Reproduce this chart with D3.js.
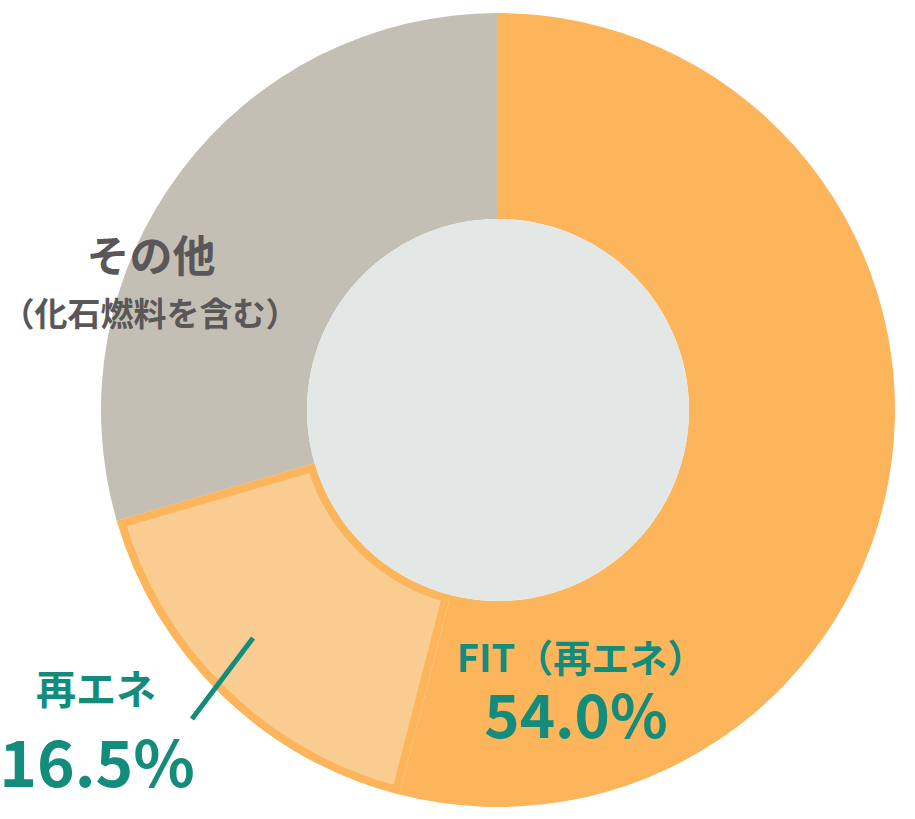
<!DOCTYPE html>
<html><head><meta charset="utf-8">
<script src="https://cdn.jsdelivr.net/npm/d3@7"></script>
<style>
html,body{margin:0;padding:0;background:#fff;}
svg{display:block;}
text{font-family:"Noto Sans CJK JP","Noto Sans",sans-serif;font-weight:700;}
</style></head>
<body>
<svg id="chart" width="915" height="819"></svg>
<script>
const categories = ["FIT（再エネ）", "再エネ", "その他"];
const values = [54.0, 16.5, 29.5];
const valueLabels = ["54.0%", "16.5%", ""];
const subLabels = ["", "", "（化石燃料を含む）"];

const W = 915, H = 819;
const cx = 498, cy = 410, R = 397, r = 191;
const fills = ["#fdb55c", "#f9cd92", "#c4bfb4"];
const teal = "#138c7c", gray = "#595757";

const svg = d3.select("#chart");
const g = svg.append("g").attr("transform", `translate(${cx},${cy})`);

const pie = d3.pie().sort(null).value(d => d)(values);
const arc = d3.arc().innerRadius(r).outerRadius(R);

const defs = svg.append("defs");
defs.append("clipPath").attr("id", "clipRE")
  .append("path").attr("d", arc(pie[1]));

g.selectAll("path.slice").data(pie).enter().append("path")
  .attr("class", "slice")
  .attr("d", arc)
  .attr("fill", (d, i) => fills[i]);

// outlined 再エネ slice
g.append("path").attr("d", arc(pie[1]))
  .attr("fill", fills[1])
  .attr("stroke", fills[0])
  .attr("stroke-width", 16)
  .attr("clip-path", "url(#clipRE)");

g.append("circle").attr("r", r).attr("fill", "#e3e7e6");

// labels
const lab = svg.append("g");
lab.append("text").attr("x", 151).attr("y", 272).attr("text-anchor", "middle")
  .attr("fill", gray).attr("font-size", 43).text(categories[2]);
lab.append("text").attr("x", 150).attr("y", 326).attr("text-anchor", "middle")
  .attr("fill", gray).attr("font-size", 33).text(subLabels[2]);

lab.append("text").attr("x", 581).attr("y", 672).attr("text-anchor", "middle")
  .attr("fill", teal).attr("font-size", 38).text(categories[0]);
lab.append("text").attr("x", 576).attr("y", 738).attr("text-anchor", "middle")
  .attr("fill", teal).attr("font-size", 60).text(valueLabels[0]);

lab.append("text").attr("x", 96).attr("y", 704).attr("text-anchor", "middle")
  .attr("fill", teal).attr("font-size", 40).text(categories[1]);
lab.append("text").attr("x", 97).attr("y", 787).attr("text-anchor", "middle")
  .attr("fill", teal).attr("font-size", 64).text(valueLabels[1]);

lab.append("line").attr("x1", 253).attr("y1", 638).attr("x2", 192).attr("y2", 719)
  .attr("stroke", teal).attr("stroke-width", 5);
</script>
</body></html>
